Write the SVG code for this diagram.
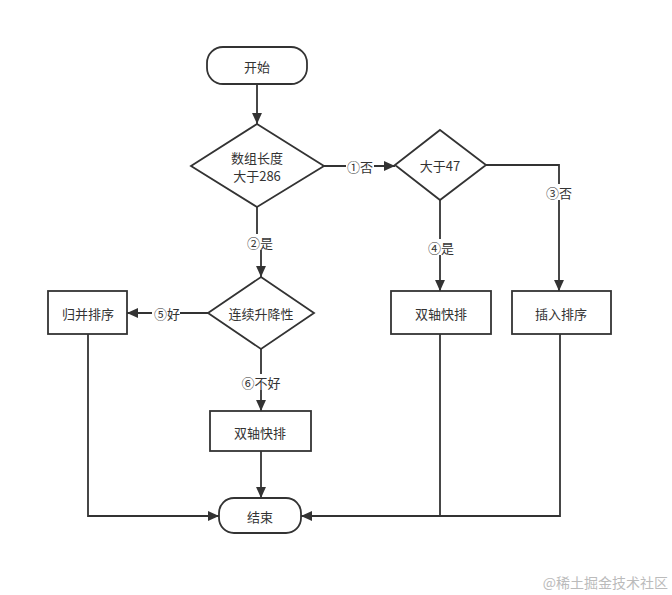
<svg xmlns="http://www.w3.org/2000/svg" width="672" height="595" viewBox="0 0 672 595">
<style>
.s{fill:#fff;stroke:#333;stroke-width:1.8}
.t{font-family:"Noto Sans CJK SC","Liberation Sans",sans-serif;font-size:13px;fill:#333;text-anchor:middle;dominant-baseline:central}
.c{fill:none;stroke:#333;stroke-width:1.8}
.lb{fill:#fff}
</style>
<defs>
<marker id="a" viewBox="0 0 10 10" refX="10" refY="5" markerWidth="11" markerHeight="11" markerUnits="userSpaceOnUse" orient="auto">
<path d="M0,0.5 L10,5 L0,9.5 Z" fill="#333"/>
</marker>
</defs>
<rect width="672" height="595" fill="#fff"/>
<g id="connectors">
<path class="c" d="M257,84 V124" marker-end="url(#a)"/>
<path class="c" d="M324,166 H395" marker-end="url(#a)"/>
<path class="c" d="M486,165 H559 V291" marker-end="url(#a)"/>
<path class="c" d="M440,200 V291" marker-end="url(#a)"/>
<path class="c" d="M257,207 V242 H261 V277" marker-end="url(#a)"/>
<path class="c" d="M208,313 H127" marker-end="url(#a)"/>
<path class="c" d="M261,349 V411" marker-end="url(#a)"/>
<path class="c" d="M261,451 V498" marker-end="url(#a)"/>
<path class="c" d="M88,334 V516 H219" marker-end="url(#a)"/>
<path class="c" d="M440,334 V516"/>
<path class="c" d="M560,334 V516 H301" marker-end="url(#a)"/>
<rect class="lb" x="346" y="158" width="28" height="16"/>
<text class="t" x="360" y="166">①否</text>
<rect class="lb" x="545" y="184" width="28" height="16"/>
<text class="t" x="559" y="192">③否</text>
<rect class="lb" x="426" y="239" width="28" height="16"/>
<text class="t" x="441" y="247">④是</text>
<rect class="lb" x="245" y="234" width="28" height="16"/>
<text class="t" x="260" y="242">②是</text>
<rect class="lb" x="152" y="305" width="28" height="16"/>
<text class="t" x="167" y="313">⑤好</text>
<rect class="lb" x="241" y="374" width="40" height="16"/>
<text class="t" x="261" y="382">⑥不好</text>
</g>
<g id="start">
<rect class="s" x="207" y="47" width="100" height="37" rx="16"/>
<text class="t" x="257" y="66">开始</text>
</g>
<g id="d1">
<polygon class="s" points="257,124 324,166 257,207 191,166"/>
<text class="t" x="257" y="157">数组长度</text>
<text class="t" x="257" y="175">大于286</text>
</g>
<g id="d2">
<polygon class="s" points="440,130 486,165 440,200 395,165"/>
<text class="t" x="440" y="165">大于47</text>
</g>
<g id="d3">
<polygon class="s" points="261,277 314,313 261,349 208,313"/>
<text class="t" x="261" y="313">连续升降性</text>
</g>
<g id="merge">
<rect class="s" x="48" y="291" width="79" height="43"/>
<text class="t" x="88" y="313">归并排序</text>
</g>
<g id="dq1">
<rect class="s" x="391" y="291" width="100" height="43"/>
<text class="t" x="441" y="313">双轴快排</text>
</g>
<g id="ins">
<rect class="s" x="512" y="291" width="99" height="43"/>
<text class="t" x="561" y="313">插入排序</text>
</g>
<g id="dq2">
<rect class="s" x="210" y="411" width="101" height="40"/>
<text class="t" x="260" y="432">双轴快排</text>
</g>
<g id="end">
<rect class="s" x="219" y="498" width="82" height="35" rx="15"/>
<text class="t" x="260" y="516">结束</text>
</g>
<text x="668" y="582" font-family="Noto Sans CJK SC,sans-serif" font-size="14" fill="#bbb" text-anchor="end" dominant-baseline="central">@稀土掘金技术社区</text>
</svg>
